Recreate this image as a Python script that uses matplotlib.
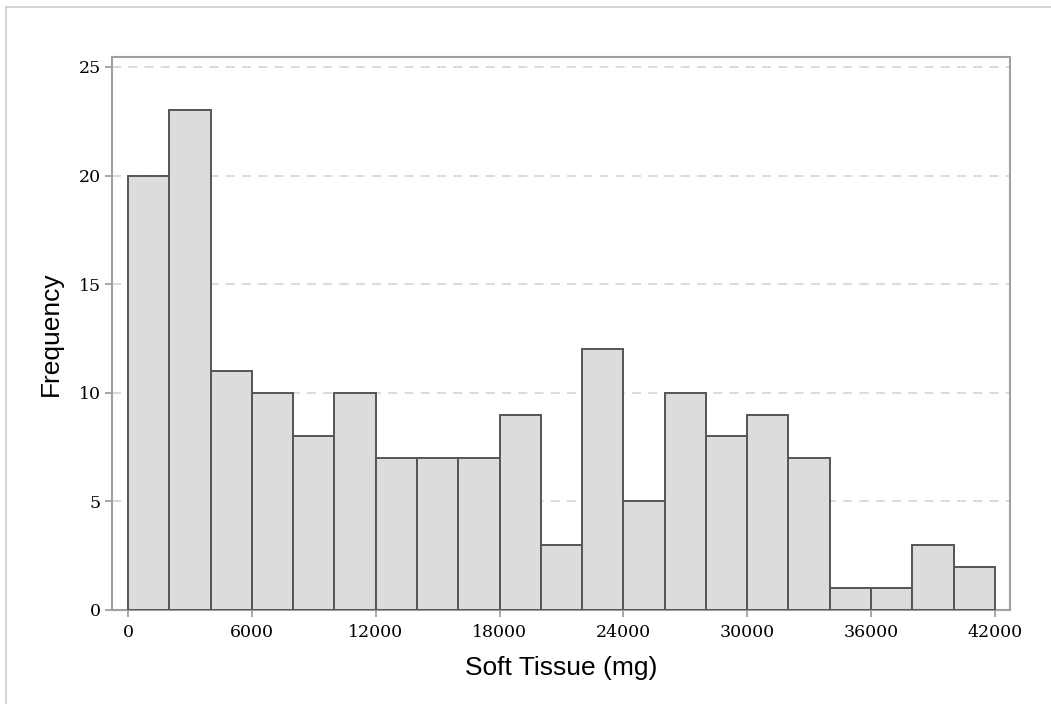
import matplotlib
matplotlib.use("Agg")
import matplotlib.pyplot as plt
import numpy as np
from matplotlib.lines import Line2D

bin_edges = list(range(0, 42001, 2000))
counts = [20, 23, 11, 10, 8, 10, 7, 7, 7, 9, 3, 12, 5, 10, 8, 9, 7, 1, 1, 3, 2]
xticks = [0, 6000, 12000, 18000, 24000, 30000, 36000, 42000]
yticks = [0, 5, 10, 15, 20, 25]
xlabel = "Soft Tissue (mg)"
ylabel = "Frequency"

fig = plt.figure(figsize=(10.51, 7.04), dpi=100)
ax = fig.add_axes([112/1051, 1-610/704, (1010-112)/1051, (610-57)/704])

# outer thin border (top & left)
fig.add_artist(Line2D([6/1051, 1.0], [1-7/704, 1-7/704], transform=fig.transFigure, color="#cccccc", lw=1.2))
fig.add_artist(Line2D([6/1051, 6/1051], [0.0, 1-7/704], transform=fig.transFigure, color="#cccccc", lw=1.2))

widths = np.diff(bin_edges)
ax.bar(bin_edges[:-1], counts, width=widths, align="edge", color="#dcdcdc",
       edgecolor="#555555", linewidth=1.4, zorder=3)

ax.set_xlim(-775, 42733)
ax.set_ylim(0, 25.46)
ax.set_xticks(xticks)
ax.set_yticks(yticks)
ax.set_xticklabels([str(v) for v in xticks], family="DejaVu Serif", fontsize=12.5)
ax.set_yticklabels([str(v) for v in yticks], family="DejaVu Serif", fontsize=12.5)

for y in yticks[1:]:
    ax.axhline(y, color="#d8d8d8", lw=1.3, ls=(0, (5, 4)), zorder=1)

for s in ax.spines.values():
    s.set_color("#a0a0a0")
    s.set_linewidth(1.5)

ax.tick_params(axis="both", direction="out", color="#a0a0a0", width=1.3, length=5, pad=3)
ax.tick_params(axis="x", pad=5)

ax.set_xlabel(xlabel, family="Liberation Sans", fontsize=19, labelpad=11)
ax.set_ylabel(ylabel, family="Liberation Sans", fontsize=19, labelpad=11)

fig.savefig("out.png", dpi=100)
